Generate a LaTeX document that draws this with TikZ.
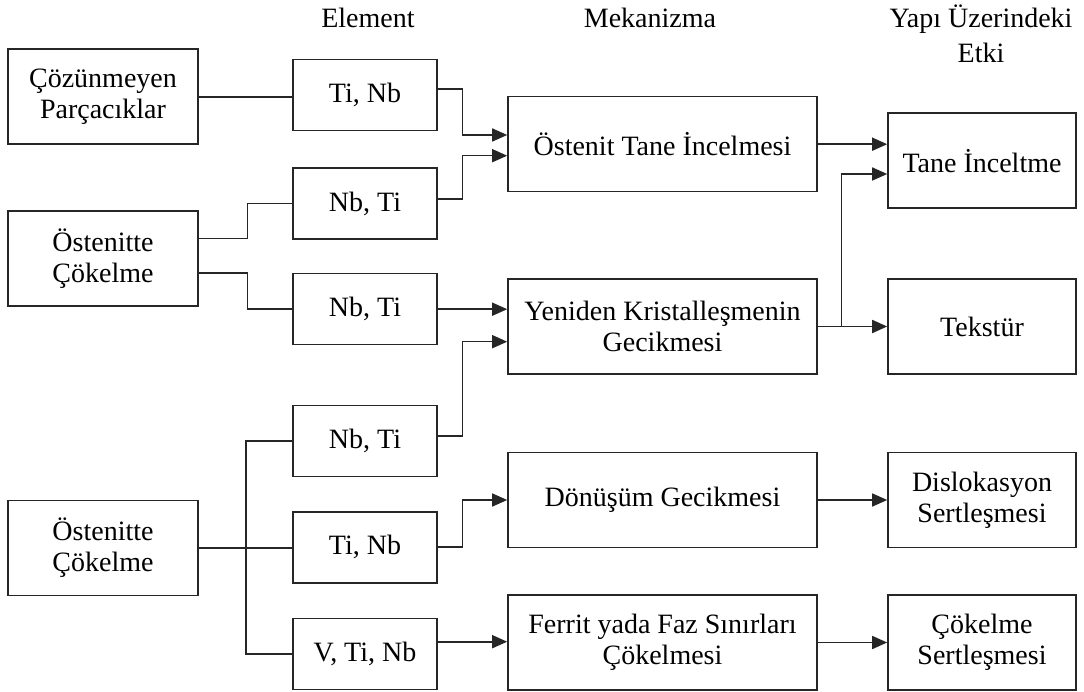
\documentclass[tikz,border=0pt]{standalone}
\usepackage{fontspec}
\setmainfont{Liberation Serif}
\usetikzlibrary{arrows.meta}
\definecolor{ln}{HTML}{262626}
\begin{document}
\begin{tikzpicture}[x=1pt,y=-1pt,
  every node/.style={font=\fontsize{28}{31}\selectfont, inner sep=0pt},
  box/.style={draw=ln, line width=1.6pt, align=center, minimum height=95pt},
  sbox/.style={draw=ln, line width=1.6pt, align=center, minimum height=71pt, minimum width=144pt},
  colA/.style={box, minimum width=190pt},
  colC/.style={box, minimum width=309pt},
  colD/.style={box, minimum width=188pt},
  lnk/.style={draw=ln, line width=1.6pt},
  arr/.style={lnk, -{Triangle[length=15pt,width=13pt]}},
  hdr/.style={anchor=base, align=center}]
\useasboundingbox (0,0) rectangle (1084,692);
% headers
\node[hdr] (hElem) at (368,28) {Element};
\node[hdr] (hMek) at (650,28) {Mekanizma};
\node[hdr] (hYapi) at (981,28) {Yapı Üzerindeki};
\node[hdr] (hEtki) at (981,63) {Etki};
% column A
\node[colA] (coz) at (103,96.8) {Çözünmeyen\\Parçacıklar};
\node[colA] (ost1) at (103,258.4) {Östenitte\\Çökelme};
\node[colA] (ost2) at (103,548) {Östenitte\\Çökelme};
% column B
\node[sbox] (tinb1) at (365,95) {Ti, Nb};
\node[sbox] (nbti2) at (365,203.5) {Nb, Ti};
\node[sbox] (nbti3) at (365,309.2) {Nb, Ti};
\node[sbox] (nbti4) at (365,440.8) {Nb, Ti};
\node[sbox] (tinb5) at (365,547.2) {Ti, Nb};
\node[sbox] (vtinb) at (365,654) {V, Ti, Nb};
% column C
\node[colC] (osttane) at (662.5,144.2) {Östenit Tane İncelmesi};
\node[colC] (yeniden) at (662.5,326.5) {Yeniden Kristalleşmenin\\Gecikmesi};
\node[colC] (donusum) at (662.5,500) {Dönüşüm Gecikmesi};
\node[colC] (ferrit) at (662.5,642.5) {Ferrit yada Faz Sınırları\\Çökelmesi};
% column D
\node[colD] (tane) at (982,160.8) {Tane İnceltme};
\node[colD] (tekstur) at (982,326.5) {Tekstür};
\node[colD] (dislok) at (982,500) {Dislokasyon\\Sertleşmesi};
\node[colD] (cokelme) at (982,642.5) {Çökelme\\Sertleşmesi};
% connectors
\draw[lnk] (coz.east) -- (coz.east -| tinb1.west);
\draw[arr] ([yshift=5.7pt]tinb1.east) -- ++(24.5,0) |- ([yshift=9.2pt]osttane.west);
\draw[arr] ([yshift=4.5pt]nbti2.east) -- ++(24.5,0) |- ([yshift=-11.5pt]osttane.west);
\draw[lnk] ([yshift=19.7pt]ost1.east) -- ++(48.6,0) |- (nbti2.west);
\draw[lnk] ([yshift=-14.9pt]ost1.east) -- ++(48.6,0) |- (nbti3.west);
\draw[arr] (nbti3.east) -- (nbti3.east -| yeniden.west);
\draw[arr] ([yshift=4.8pt]nbti4.east) -- ++(24.5,0) |- ([yshift=-15.2pt]yeniden.west);
\draw[lnk] (ost2.east) -- (ost2.east -| tinb5.west);
\draw[lnk] (nbti4.west) -- ++(-46.4,0) |- (vtinb.west);
\draw[arr] (tinb5.east) -- ++(24.5,0) |- (donusum.west);
\draw[arr] ([yshift=12.3pt]vtinb.east) -- ([yshift=12.3pt]vtinb.east -| ferrit.west);
\draw[arr] (osttane.east) -- (osttane.east -| tane.west);
\draw[arr] (yeniden.east) -- (yeniden.east -| tekstur.west);
\draw[arr] (yeniden.east) -- ++(23.8,0) |- ([yshift=-13.2pt]tane.west);
\draw[arr] (donusum.east) -- (dislok.west);
\draw[arr] (ferrit.east) -- (cokelme.west);
\end{tikzpicture}
\end{document}
